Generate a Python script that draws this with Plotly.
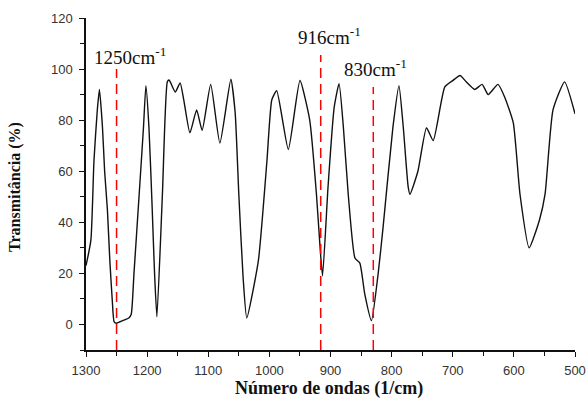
import plotly.graph_objects as go

wavenumber = [1300, 1292, 1287, 1281.5, 1278, 1273, 1269.5, 1265, 1261, 1257, 1254, 1250, 1240, 1230, 1226,
              1221.5, 1213, 1206, 1202, 1197, 1191.6, 1188, 1184, 1175, 1167, 1164, 1154, 1146, 1140, 1130,
              1119, 1110, 1096, 1081, 1063, 1056, 1050, 1043, 1037, 1018, 1004, 996, 988, 969, 950, 934,
              923, 917, 913, 904, 894, 886, 879, 871, 860, 852, 844, 833, 822, 814, 798, 788, 781, 773,
              770, 757, 743, 732, 713, 700, 688, 678, 664, 652, 642, 626, 615, 601, 590, 575, 558, 549,
              536, 517, 500]
transmittance = [23, 33, 64, 84, 92, 77, 60, 45, 25, 9.4, 1, 0.5, 1.5, 2.5, 4,
                 20, 51, 77, 93.5, 77, 44.7, 21, 3, 51, 95, 95.7, 91, 94.6, 87.8, 75,
                 84, 76, 94, 71, 96, 83, 51, 18.5, 2.5, 25, 64, 88, 91.5, 68.5, 95.5, 80,
                 51, 30, 19, 54, 85, 94.3, 77.4, 51, 26, 24, 12, 1.5, 20, 38, 77, 93.5, 77.4, 54,
                 51, 60, 77, 72, 93, 95.5, 97.5, 95, 92, 94, 90, 94, 89, 79, 51, 30, 41, 51,
                 84, 95, 82.5]

marker_positions = [1250, 916, 830]
marker_tops = [100, 105.5, 93]
marker_labels = ["1250cm<sup>-1</sup>", "916cm<sup>-1</sup>", "830cm<sup>-1</sup>"]
label_x = [1291, 957, 882]
label_y = [105, 113, 100.5]

x_ticks = [1300, 1200, 1100, 1000, 900, 800, 700, 600, 500]
y_ticks = [0, 20, 40, 60, 80, 100, 120]

fig = go.Figure()
fig.add_trace(go.Scatter(x=wavenumber, y=transmittance, mode="lines",
                         line=dict(color="#111111", width=1.4, shape="spline", smoothing=0.5),
                         showlegend=False, hoverinfo="skip"))

for xv, top in zip(marker_positions, marker_tops):
    fig.add_shape(type="line", x0=xv, x1=xv, y0=-10, y1=top, xref="x", yref="y",
                  line=dict(color="#ff0000", width=1.5, dash="10px,6px"))

for txt, xv, yv in zip(marker_labels, label_x, label_y):
    fig.add_annotation(x=xv, y=yv, xref="x", yref="y", text=txt, showarrow=False,
                       xanchor="left", yanchor="middle",
                       font=dict(family="Liberation Serif", size=19, color="#111111"))

fig.add_annotation(x=0.497, y=-0.117, xref="paper", yref="paper",
                   text="<b>Número de ondas (1/cm)</b>", showarrow=False,
                   xanchor="center", yanchor="middle",
                   font=dict(family="Liberation Serif", size=18, color="#111111"))
fig.add_annotation(x=-0.145, y=0.491, xref="paper", yref="paper",
                   text="<b>Transmitância (%)</b>", showarrow=False, textangle=-90,
                   xanchor="center", yanchor="middle",
                   font=dict(family="Liberation Serif", size=16, color="#111111"))

axis_common = dict(showline=True, linecolor="#111111", linewidth=1.5, ticks="outside",
                   ticklen=5, tickwidth=1.2, tickcolor="#111111", showgrid=False,
                   zeroline=False, mirror=False, automargin=False,
                   tickfont=dict(family="Liberation Sans", size=13, color="#333333"))

fig.update_xaxes(range=[1300, 500], tickvals=x_ticks, ticktext=[str(v) for v in x_ticks],
                 ticklabelstandoff=3,
                 minor=dict(dtick=50, tick0=0, ticks="outside", ticklen=4, tickcolor="#111111", tickwidth=1.2),
                 **axis_common)
fig.update_yaxes(range=[-10, 120], tickvals=y_ticks, ticktext=[str(v) for v in y_ticks],
                 ticklabelstandoff=4,
                 minor=dict(dtick=10, tick0=0, ticks="outside", ticklen=4, tickcolor="#111111", tickwidth=1.2),
                 **axis_common)

fig.update_layout(width=586, height=400, margin=dict(l=86, r=11, t=18, b=50, autoexpand=False),
                  plot_bgcolor="white", paper_bgcolor="white")

# remove the page's default 8px body margin so the figure fills the window exactly
fig.write_html("out.html", config={"displayModeBar": False},
               post_script="document.body.style.margin='0';document.body.style.overflow='hidden';")
